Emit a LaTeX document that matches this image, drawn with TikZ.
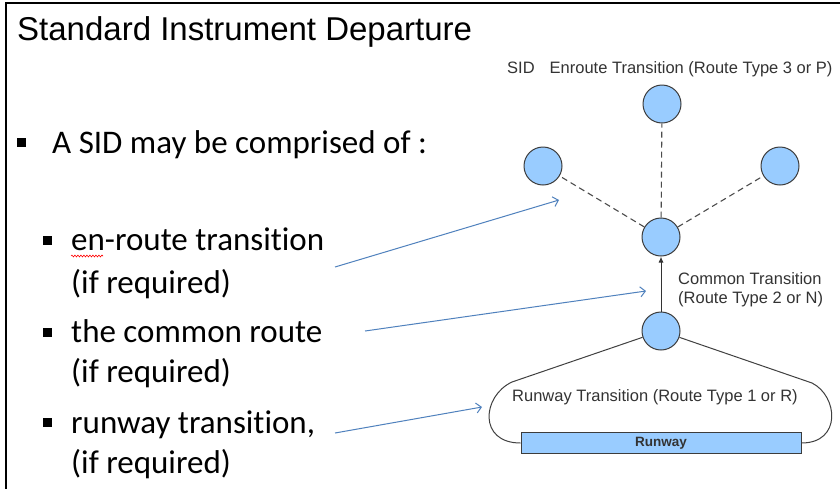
\documentclass[tikz,border=0pt]{standalone}
\usepackage{fontspec}
\setmainfont{Liberation Sans}
\newfontfamily\calib[Ligatures=NoCommon]{Carlito}
\usetikzlibrary{arrows.meta,decorations.pathmorphing}
\definecolor{sidblue}{RGB}{153,204,255}
\definecolor{sidarrow}{RGB}{79,129,189}
\definecolor{sidedge}{RGB}{60,60,60}
\begin{document}
\begin{tikzpicture}[x=1pt,y=-1pt,
  wpt/.style={circle,minimum size=38,inner sep=0,draw=sidedge,fill=sidblue,line width=1},
  lbl/.style={anchor=base west,inner sep=0,font=\fontsize{16.5}{18}\selectfont,text=black!80},
  btxt/.style={anchor=base west,inner sep=0,font=\calib\fontsize{33}{38}\selectfont},
  bsq/.style={rectangle,fill=black,minimum size=9,inner sep=0},
  pointer/.style={draw=sidarrow,line width=1,-{Straight Barb[length=5pt,width=10pt]}},
  dline/.style={draw=black!70,dashed,line width=1.1,dash pattern=on 6pt off 4pt},
  sline/.style={draw=black!75,line width=1}]
\useasboundingbox (0,0) rectangle (840,488);
\fill[white] (0,0) rectangle (840,488);
% frame
\coordinate (fb) at (6,488);
\coordinate (ftl) at (6,3);
\coordinate (ftr) at (840,3);
\draw[line width=2.5,line cap=rect] (fb) -- (ftl) -- (ftr);
% title
\node[anchor=base west,inner sep=0,font=\fontsize{33}{38}\selectfont] (title) at (17,40.7) {Standard Instrument Departure};
% bullets
\node[bsq] (b0) at (21.5,142) {};
\node[btxt] (t0) at (52,153.3) {A SID may be comprised of :};
\node[bsq] (b1) at (47,240) {};
\node[btxt] (t1) at (71,250.7) {en-route transition};
\node[btxt] (t1b) at (71,293) {(if required)};
\node[bsq] (b2) at (47,332) {};
\node[btxt] (t2) at (71,342.3) {the common route};
\node[btxt] (t2b) at (71,382) {(if required)};
\node[bsq] (b3) at (47,422) {};
\node[btxt] (t3) at (71,433.3) {runway transition,};
\node[btxt] (t3b) at (71,473.3) {(if required)};
% spell-check squiggle
\coordinate (sq1) at (71,256);
\coordinate (sq2) at (103,256);
\draw[red,line width=0.6,decorate,decoration={snake,amplitude=0.9pt,segment length=3pt}] (sq1) -- (sq2);
% waypoints
\node[wpt] (top) at (662,104) {};
\node[wpt] (left) at (543,166) {};
\node[wpt] (right) at (780,166) {};
\node[wpt] (mid) at (661,237) {};
\node[wpt] (bot) at (661,331) {};
\draw[dline] (mid) -- (top);
\draw[dline] (mid) -- (left);
\draw[dline] (mid) -- (right);
\draw[sline,-{Latex[length=6pt,width=5pt]},draw=black!80] (bot) -- (mid);
% runway
\node[rectangle,minimum width=280,minimum height=20.5,inner sep=0,draw=sidedge,fill=sidblue,line width=1,
  font=\bfseries\fontsize{13.5}{15}\selectfont,text=black!80] (rwy) at (661,443) {Runway};
\coordinate (lA) at (512,382);
\coordinate (rA) at (812,383);
\draw[sline] (bot) -- (lA) .. controls (482,396) and (478,443) .. (rwy.west);
\draw[sline] (bot) -- (rA) .. controls (838,396) and (842,443) .. (rwy.east);
% labels
\node[lbl] (sid) at (507,73.3) {SID\hspace{15pt}Enroute Transition (Route Type 3 or P)};
\node[lbl] (ct1) at (678,284) {Common Transition};
\node[lbl] (ct2) at (678,303.5) {(Route Type 2 or N)};
\node[lbl] (rt) at (512,401.7) {Runway Transition (Route Type 1 or R)};
% pointer arrows
\coordinate (p1s) at (335,267);
\coordinate (p1e) at (559,200);
\coordinate (p2s) at (365,331);
\coordinate (p2e) at (646,291);
\coordinate (p3s) at (335,433);
\coordinate (p3e) at (482,407);
\draw[pointer] (p1s) -- (p1e);
\draw[pointer] (p2s) -- (p2e);
\draw[pointer] (p3s) -- (p3e);
\end{tikzpicture}
\end{document}
